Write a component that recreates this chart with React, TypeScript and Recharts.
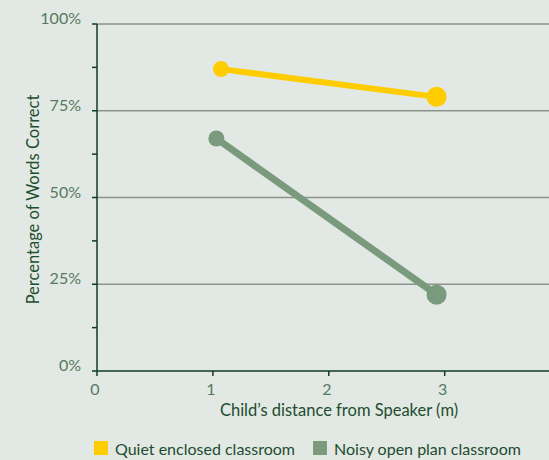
import React from 'react';
import {
  LineChart,
  Line,
  XAxis,
  YAxis,
  ReferenceLine,
  Legend,
} from 'recharts';

const quietDistance = [1.07, 2.93];
const quietScore = [87, 79];
const noisyDistance = [1.03, 2.93];
const noisyScore = [67, 22];

const xTicks = [0, 1, 2, 3];
const yTicks = [0, 12.5, 25, 37.5, 50, 62.5, 75, 87.5, 100];
const gridValues = [25, 50, 75, 100];

const quietData = quietDistance.map((d, i) => ({ distance: d, score: quietScore[i] }));
const noisyData = noisyDistance.map((d, i) => ({ distance: d, score: noisyScore[i] }));

const BG = '#e2e8e3';
const AXIS = '#0f3d22';
const TICK_TEXT = '#557a62';
const TITLE_TEXT = '#1e4d2f';
const YELLOW = '#ffcc00';
const GREEN = '#7a9a7e';
const FONT = 'Lato, "Open Sans", sans-serif';

const legendItems = [
  { label: 'Quiet enclosed classroom', color: YELLOW },
  { label: 'Noisy open plan classroom', color: GREEN },
];

function makeDot(color: string) {
  return (props: any) => {
    const { cx, cy, index } = props;
    const r = index === 1 ? 10 : 8;
    return <circle key={index} cx={cx} cy={cy} r={r} fill={color} stroke="none" />;
  };
}

function YTick(props: any) {
  const { x, y, payload } = props;
  if (payload.value % 25 !== 0) return <g />;
  return (
    <text
      x={x - 9}
      y={y - 4}
      textAnchor="end"
      dominantBaseline="middle"
      fill={TICK_TEXT}
      fontSize={16}
      fontWeight={400}
      fontFamily={FONT}
    >
      {payload.value}%
    </text>
  );
}

function XTick(props: any) {
  const { x, y, payload } = props;
  return (
    <text
      x={x - 2}
      y={y + 4}
      textAnchor="middle"
      dominantBaseline="hanging"
      fill={TICK_TEXT}
      fontSize={16}
      fontWeight={400}
      fontFamily={FONT}
    >
      {payload.value}
    </text>
  );
}

function LegendContent() {
  return (
    <div
      style={{
        height: 24,
        display: 'flex',
        alignItems: 'center',
        paddingLeft: 94,
        fontFamily: FONT,
        fontSize: 16,
        color: TITLE_TEXT,
      }}
    >
      {legendItems.map((item, i) => (
        <div key={i} style={{ display: 'flex', alignItems: 'center', marginRight: 18 }}>
          <span
            style={{
              display: 'inline-block',
              width: 14,
              height: 14,
              background: item.color,
              marginRight: 7,
            }}
          />
          <span>{item.label}</span>
        </div>
      ))}
    </div>
  );
}

export default function App() {
  return (
    <div style={{ position: 'absolute', left: 0, top: 0, width: 549, height: 460, background: BG }}>
      <LineChart
        width={549}
        height={460}
        margin={{ top: 24, right: 0, bottom: 0, left: 0 }}
        style={{ background: BG }}
      >
        {gridValues.map((v) => (
          <ReferenceLine key={v} y={v} stroke="#8c928d" strokeWidth={1.5} ifOverflow="extendDomain" />
        ))}
        <XAxis
          type="number"
          dataKey="distance"
          domain={[0, 3.9]}
          ticks={xTicks}
          allowDataOverflow
          height={65}
          stroke={AXIS}
          strokeWidth={1.5}
          tickSize={5}
          tickLine={{ stroke: AXIS }}
          tick={<XTick />}
          label={(props: any) => {
            const vb = props.viewBox;
            return (
              <text
                x={339}
                y={vb.y + 45}
                textAnchor="middle"
                fill={TITLE_TEXT}
                fontSize={16.5}
                fontFamily={FONT}
              >
                Child’s distance from Speaker (m)
              </text>
            );
          }}
        />
        <YAxis
          type="number"
          domain={[0, 100]}
          ticks={yTicks}
          width={97}
          stroke={AXIS}
          strokeWidth={1.5}
          tickSize={5}
          tickLine={{ stroke: AXIS }}
          tick={<YTick />}
          interval={0}
          label={(props: any) => {
            const vb = props.viewBox;
            const cx = 35;
            const cy = vb.y + vb.height / 2 + 2;
            return (
              <text
                x={cx}
                y={cy}
                transform={`rotate(-90 ${cx} ${cy})`}
                textAnchor="middle"
                dominantBaseline="middle"
                fill={TITLE_TEXT}
                fontSize={16.5}
                fontFamily={FONT}
              >
                Percentage of Words Correct
              </text>
            );
          }}
        />
        <Legend verticalAlign="bottom" content={<LegendContent />} />
        <Line
          data={quietData}
          dataKey="score"
          name="Quiet enclosed classroom"
          stroke={YELLOW}
          strokeWidth={6}
          dot={makeDot(YELLOW)}
          activeDot={false}
          isAnimationActive={false}
        />
        <Line
          data={noisyData}
          dataKey="score"
          name="Noisy open plan classroom"
          stroke={GREEN}
          strokeWidth={7}
          dot={makeDot(GREEN)}
          activeDot={false}
          isAnimationActive={false}
        />
      </LineChart>
    </div>
  );
}
